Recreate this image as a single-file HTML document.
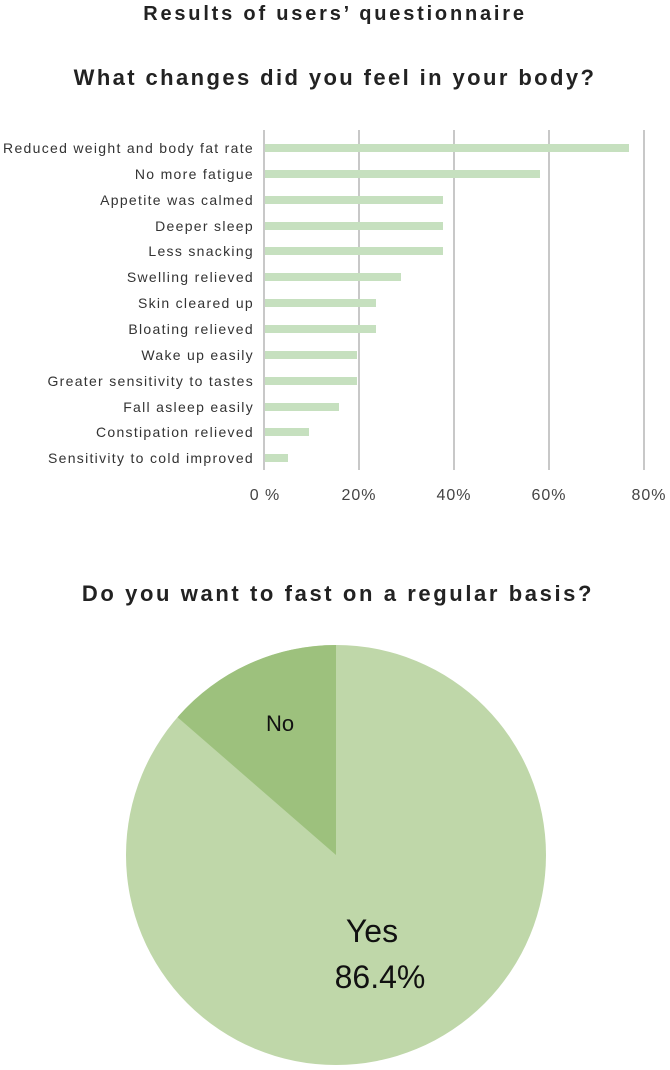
<!DOCTYPE html><html><head><style>
body{margin:0;width:670px;height:1065px;background:#fff;overflow:hidden;font-family:"Liberation Sans",sans-serif;}
</style></head><body>
<svg width="670" height="1065" xmlns="http://www.w3.org/2000/svg" font-family="Liberation Sans, sans-serif">
<text x="335" y="20" text-anchor="middle" font-size="20" font-weight="bold" fill="#222" letter-spacing="2.8">Results of users’ questionnaire</text>
<text x="335" y="85" text-anchor="middle" font-size="22" font-weight="bold" fill="#222" letter-spacing="2.4">What changes did you feel in your body?</text>
<g stroke="#c8c8c8" stroke-width="2">
<line x1="264" y1="130" x2="264" y2="470"/><line x1="359" y1="130" x2="359" y2="470"/><line x1="454" y1="130" x2="454" y2="470"/><line x1="549" y1="130" x2="549" y2="470"/><line x1="644" y1="130" x2="644" y2="470"/>
</g>
<g fill="#c6e0bf">
<rect x="265" y="144" width="364" height="8"/>
<rect x="265" y="170" width="275" height="8"/>
<rect x="265" y="196" width="178" height="8"/>
<rect x="265" y="222" width="178" height="8"/>
<rect x="265" y="247" width="178" height="8"/>
<rect x="265" y="273" width="136" height="8"/>
<rect x="265" y="299" width="111" height="8"/>
<rect x="265" y="325" width="111" height="8"/>
<rect x="265" y="351" width="92" height="8"/>
<rect x="265" y="377" width="92" height="8"/>
<rect x="265" y="403" width="74" height="8"/>
<rect x="265" y="428" width="44" height="8"/>
<rect x="265" y="454" width="23" height="8"/>
</g>
<g font-size="14" fill="#333" text-anchor="end" letter-spacing="1.3">
<text x="254" y="153">Reduced weight and body fat rate</text>
<text x="254" y="179">No more fatigue</text>
<text x="254" y="205">Appetite was calmed</text>
<text x="254" y="231">Deeper sleep</text>
<text x="254" y="256">Less snacking</text>
<text x="254" y="282">Swelling relieved</text>
<text x="254" y="308">Skin cleared up</text>
<text x="254" y="334">Bloating relieved</text>
<text x="254" y="360">Wake up easily</text>
<text x="254" y="386">Greater sensitivity to tastes</text>
<text x="254" y="412">Fall asleep easily</text>
<text x="254" y="437">Constipation relieved</text>
<text x="254" y="463">Sensitivity to cold improved</text>
</g>
<g font-size="16" fill="#444" text-anchor="middle" letter-spacing="1">
<text x="265" y="500">0 %</text><text x="359" y="500">20%</text><text x="454" y="500">40%</text><text x="549" y="500">60%</text><text x="649" y="500">80%</text>
</g>
<text x="338" y="601" text-anchor="middle" font-size="22" font-weight="bold" fill="#222" letter-spacing="2.6">Do you want to fast on a regular basis?</text>
<circle cx="336" cy="855" r="210" fill="#bfd7a9"/>
<path d="M336 855 L336 645 A210 210 0 0 0 177.5 717.2 Z" fill="#9dc17d"/>
<text x="280" y="731" text-anchor="middle" font-size="22" fill="#111">No</text>
<text x="372" y="942" text-anchor="middle" font-size="32" fill="#111">Yes</text>
<text x="380" y="988" text-anchor="middle" font-size="32" fill="#111">86.4%</text>
</svg>
</body></html>
